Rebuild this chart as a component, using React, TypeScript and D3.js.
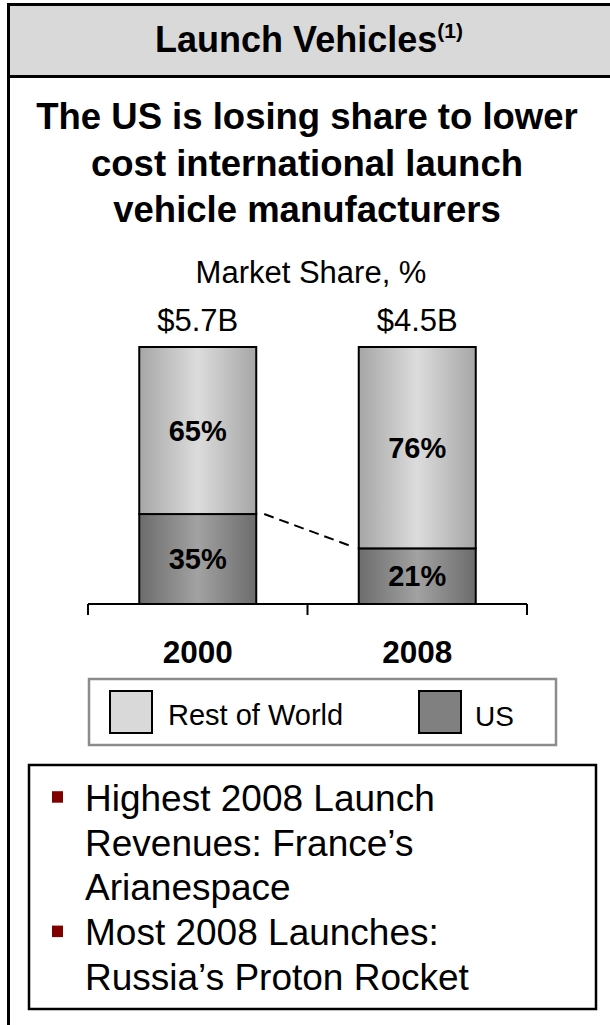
import React from "react";
import * as d3 from "d3";

const years = ["2000", "2008"];
const totalLabels = ["$5.7B", "$4.5B"];
const usShare = [35, 21];
const rowShare = [65, 76];
const legendLabels = ["Rest of World", "US"];
const titleText = "Launch Vehicles";
const titleNote = "(1)";
const subtitleLines = [
  "The US is losing share to lower",
  "cost international launch",
  "vehicle manufacturers",
];
const chartTitle = "Market Share, %";
const bulletItems = [
  ["Highest 2008 Launch", "Revenues: France\u2019s", "Arianespace"],
  ["Most 2008 Launches:", "Russia\u2019s Proton Rocket"],
];

const FONT = "'Liberation Sans', Arial, Helvetica, sans-serif";

export default function App() {
  const W = 610;
  const H = 1025;

  const rows = years.map((y, i) => ({ year: y, us: usShare[i], row: rowShare[i] }));
  const stacked = d3
    .stack<any>()
    .keys(["us", "row"])
    .offset(d3.stackOffsetExpand)(rows);

  const x = d3
    .scaleBand<string>()
    .domain(years)
    .range([88, 527])
    .paddingInner(0.467)
    .paddingOuter(0.2335);
  const y = d3.scaleLinear().domain([0, 1]).range([604, 347]);
  const bw = x.bandwidth();

  const gradId = ["gradUS", "gradROW"];

  const usTop = stacked[0].map((d) => y(d[1]));
  const dashStart = [x(years[0])! + bw + 8, usTop[0]];
  const dashEnd = [x(years[1])! - 7, usTop[1] - 2];

  const axisY = y(0);
  const tickXs = [x.range()[0], (x.range()[0] + x.range()[1]) / 2, x.range()[1]];

  const bulletLineH = 44.8;
  let lineIdx = 0;

  return (
    <div style={{ position: "absolute", left: 0, top: 0 }}>
      <svg width={W} height={H} style={{ display: "block" }} fontFamily={FONT}>
        <defs>
          <linearGradient id="gradROW" x1="0" x2="1" y1="0" y2="0">
            <stop offset="0%" stopColor="#a6a6a6" />
            <stop offset="50%" stopColor="#dcdcdc" />
            <stop offset="100%" stopColor="#a6a6a6" />
          </linearGradient>
          <linearGradient id="gradUS" x1="0" x2="1" y1="0" y2="0">
            <stop offset="0%" stopColor="#6c6c6c" />
            <stop offset="50%" stopColor="#a2a2a2" />
            <stop offset="100%" stopColor="#6c6c6c" />
          </linearGradient>
        </defs>
        <rect x={0} y={0} width={W} height={H} fill="#ffffff" />
        {/* Header */}
        <rect x={8} y={4} width={W - 8} height={72} fill="#d9d9d9" />
        <line x1={8} x2={W} y1={4.5} y2={4.5} stroke="#000" strokeWidth={3} />
        <line x1={8} x2={W} y1={76.5} y2={76.5} stroke="#000" strokeWidth={3} />
        <line x1={8.5} x2={8.5} y1={3} y2={H} stroke="#000" strokeWidth={3} />
        <text x={309} y={52} textAnchor="middle" fontWeight="bold" fontSize={36} fill="#000">
          {titleText}
          <tspan fontSize={21} dy={-14}>{titleNote}</tspan>
        </text>

        {/* Subtitle */}
        {subtitleLines.map((l, i) => (
          <text key={i} x={307} y={129 + i * 46.5} textAnchor="middle" fontWeight="bold" fontSize={36.5} fill="#000">
            {l}
          </text>
        ))}

        <text x={311} y={283} textAnchor="middle" fontSize={31} fill="#000">
          {chartTitle}
        </text>

        {years.map((yr, i) => (
          <text key={yr} x={x(yr)! + bw / 2} y={331} textAnchor="middle" fontSize={31} fill="#000">
            {totalLabels[i]}
          </text>
        ))}

        {/* Bars */}
        {stacked.map((s, si) =>
          s.map((d, i) => (
            <rect
              key={si + "-" + i}
              x={x(years[i])!}
              y={y(d[1])}
              width={bw}
              height={y(d[0]) - y(d[1])}
              fill={`url(#${gradId[si]})`}
              stroke="#000"
              strokeWidth={2}
            />
          ))
        )}
        {stacked.map((s, si) =>
          s.map((d, i) => (
            <text
              key={"l" + si + "-" + i}
              x={x(years[i])! + bw / 2}
              y={(y(d[0]) + y(d[1])) / 2 + 10}
              textAnchor="middle"
              fontWeight="bold"
              fontSize={29}
              fill="#000"
            >
              {(si === 0 ? usShare[i] : rowShare[i]) + "%"}
            </text>
          ))
        )}

        <line
          x1={dashStart[0]}
          y1={dashStart[1]}
          x2={dashEnd[0]}
          y2={dashEnd[1]}
          stroke="#000"
          strokeWidth={2}
          strokeDasharray="10,6"
        />

        {/* Axis */}
        <line x1={tickXs[0]} x2={tickXs[2]} y1={axisY} y2={axisY} stroke="#000" strokeWidth={2} />
        {tickXs.map((tx, i) => (
          <line key={i} x1={tx} x2={tx} y1={axisY} y2={axisY + 11} stroke="#000" strokeWidth={2} />
        ))}
        {years.map((yr) => (
          <text key={"y" + yr} x={x(yr)! + bw / 2} y={663} textAnchor="middle" fontWeight="bold" fontSize={31.5} fill="#000">
            {yr}
          </text>
        ))}

        {/* Legend */}
        <rect x={89} y={679} width={467} height={66} fill="#fff" stroke="#8c8c8c" strokeWidth={2.5} />
        <rect x={110} y={691} width={42} height={42} fill="#d9d9d9" stroke="#000" strokeWidth={2} />
        <text x={168} y={725} fontSize={29} fill="#000">{legendLabels[0]}</text>
        <rect x={419} y={691} width={42} height={42} fill="#808080" stroke="#000" strokeWidth={2} />
        <text x={475} y={726} fontSize={28} fill="#000">{legendLabels[1]}</text>

        {/* Notes box */}
        <rect x={29} y={765} width={567} height={244} fill="#fff" stroke="#000" strokeWidth={2.5} />
        {bulletItems.map((item, bi) => {
          const startIdx = lineIdx;
          lineIdx += item.length;
          const baseY = 810.7 + startIdx * bulletLineH;
          return (
            <g key={bi}>
              <rect x={52} y={baseY - 19.5} width={11} height={11.5} fill="#800000" />
              {item.map((t, j) => (
                <text key={j} x={85} y={baseY + j * bulletLineH} fontSize={37} fill="#000">
                  {t}
                </text>
              ))}
            </g>
          );
        })}
      </svg>
    </div>
  );
}
